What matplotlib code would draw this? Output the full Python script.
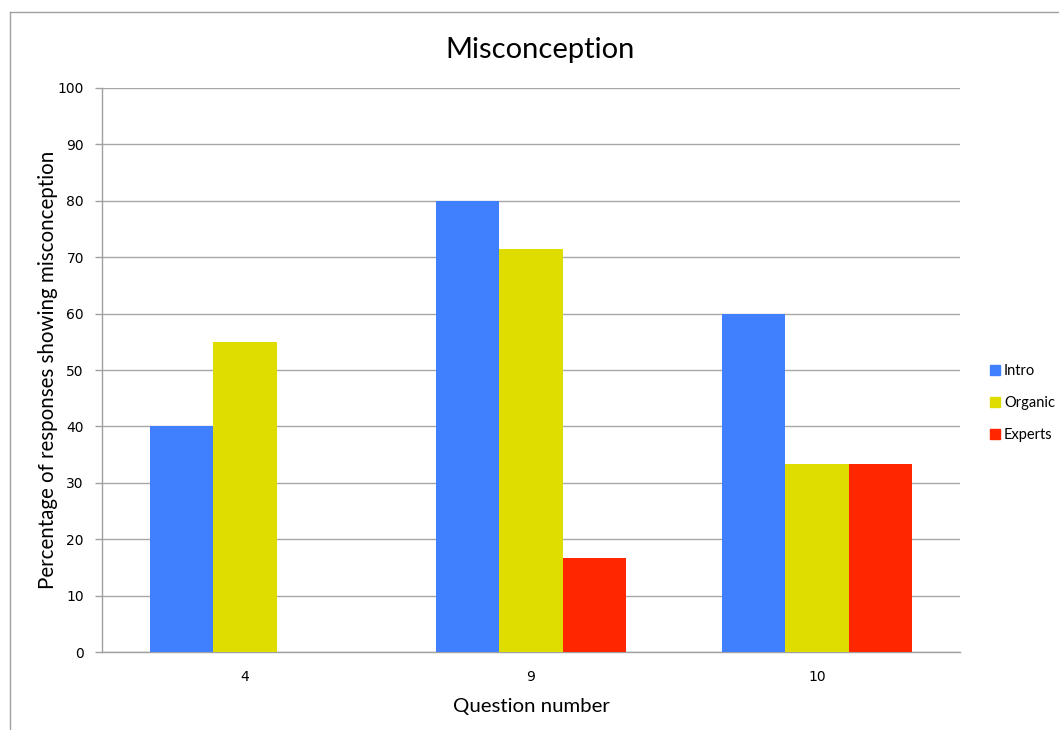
import numpy as np
import matplotlib.pyplot as plt
from matplotlib.lines import Line2D
from matplotlib.patches import Patch

# data
questions = ['4', '9', '10']
intro = [40, 80, 60]
organic = [55, 71.4, 33.3]
experts = [0, 16.7, 33.3]
series_names = ['Intro', 'Organic', 'Experts']
colors = ['#4080ff', '#dfdc00', '#ff2600']

fig = plt.figure(figsize=(10.59, 7.30), dpi=100)
ax = fig.add_axes([0.0963, 0.1068, 0.8102, 0.7727])

x = np.arange(len(questions))
w = 0.222
for k, (vals, c) in enumerate(zip([intro, organic, experts], colors)):
    ax.bar(x + (k - 1) * w, vals, width=w, color=c, zorder=3)

ax.set_xlim(-0.5, 2.5)
ax.set_ylim(0, 100)
ax.set_yticks(np.arange(0, 101, 10))
ax.set_xticks(x)
ax.set_xticklabels(questions)
ax.tick_params(axis='x', length=0, pad=13, labelsize=10)
ax.tick_params(axis='y', length=5, color='#a0a0a0', width=1, pad=8, labelsize=10)
ax.yaxis.grid(True, color='#a8a8a8', lw=1, zorder=0)
for s in ['top', 'right']:
    ax.spines[s].set_visible(False)
for s in ['left', 'bottom']:
    ax.spines[s].set_color('#a0a0a0')
    ax.spines[s].set_linewidth(1)

fig.text(0.51, 0.931, 'Misconception', fontsize=21, family='Lato', ha='center', va='center')
ax.set_ylabel('Percentage of responses showing misconception', fontsize=14.8, family='Lato', labelpad=0)
ax.set_xlabel('Question number', fontsize=14.7, family='Lato', labelpad=10)

handles = [Patch(color=c) for c in colors]
fig.legend(handles, series_names, loc='center left', bbox_to_anchor=(0.922, 0.448),
           frameon=False, handlelength=0.7, handleheight=0.7,
           handletextpad=0.3, labelspacing=1.25,
           prop={'family': 'Lato', 'size': 10.5})

# partial frame from the screenshot
fig.add_artist(Line2D([0.0094, 0.0094], [0, 0.9836], color='#a0a0a0', lw=1))
fig.add_artist(Line2D([0.0094, 1], [0.9836, 0.9836], color='#a0a0a0', lw=1))

fig.savefig('out.png', dpi=100)
